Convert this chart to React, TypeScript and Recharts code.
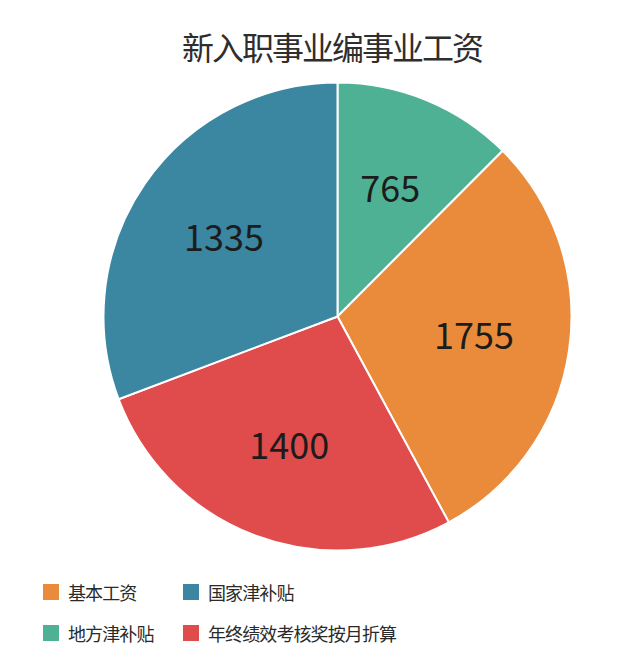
import React from "react";
import { Cell, Pie, PieChart } from "recharts";

// slices in drawing order, clockwise from 12 o'clock
const names = ["地方津补贴", "基本工资", "年终绩效考核奖按月折算", "国家津补贴"];
const amounts = [765, 1755, 1400, 1335];
// slice sizes as drawn in the picture (degrees of the circle)
const sliceDegrees = [44.9, 106.7, 97.7, 110.7];
const colors = ["#4fb194", "#ea8b3b", "#e04b4c", "#3b86a1"];

// legend order as printed under the chart
const legendOrder = [1, 3, 0, 2];

const data = names.map((name, i) => ({
  name,
  amount: amounts[i],
  share: sliceDegrees[i],
}));

const RAD = Math.PI / 180;
const FONT = '"Noto Sans CJK SC", "Noto Sans", sans-serif';
const LABEL_SIZE = 36;

const renderLabel = (props: any) => {
  const { cx, cy, midAngle, index } = props;
  const r = 138;
  const x = cx + r * Math.cos(-midAngle * RAD);
  const y = cy + r * Math.sin(-midAngle * RAD);
  return (
    <text
      x={x}
      y={y + LABEL_SIZE * 0.357}
      fill="#1c1c1c"
      fontSize={LABEL_SIZE}
      fontFamily={FONT}
      textAnchor="middle"
    >
      {amounts[index]}
    </text>
  );
};

export default function App() {
  return (
    <div
      style={{
        position: "absolute",
        left: 0,
        top: 0,
        width: 640,
        height: 669,
        background: "#fff",
        fontFamily: FONT,
      }}
    >
      <div
        style={{
          position: "absolute",
          left: 0,
          top: 25,
          width: 664,
          textAlign: "center",
          fontSize: 32,
          letterSpacing: -2,
          lineHeight: "42px",
          color: "#2e2e2e",
        }}
      >
        新入职事业编事业工资
      </div>
      <PieChart
        width={640}
        height={560}
        margin={{ top: 0, right: 0, bottom: 0, left: 0 }}
        style={{ position: "absolute", left: 0, top: 0 }}
      >
        <Pie
          data={data}
          dataKey="share"
          nameKey="name"
          cx={337.5}
          cy={316.5}
          outerRadius={234}
          startAngle={90}
          endAngle={-270}
          stroke="#fff"
          strokeWidth={2}
          label={renderLabel}
          labelLine={false}
          isAnimationActive={false}
        >
          {data.map((d, i) => (
            <Cell key={d.name} fill={colors[i]} />
          ))}
        </Pie>
      </PieChart>
      {legendOrder.map((idx, k) => {
        const col = k % 2;
        const row = Math.floor(k / 2);
        return (
          <div
            key={names[idx]}
            style={{
              position: "absolute",
              left: col === 0 ? 43 : 183,
              top: row === 0 ? 580 : 621,
              height: 24,
              display: "flex",
              alignItems: "center",
              fontSize: 18,
              letterSpacing: -0.9,
              color: "#2a2a2a",
              whiteSpace: "nowrap",
            }}
          >
            <span
              style={{
                display: "inline-block",
                width: 16,
                height: 16,
                background: colors[idx],
                marginRight: 9,
              }}
            />
            {names[idx]}
          </div>
        );
      })}
    </div>
  );
}
